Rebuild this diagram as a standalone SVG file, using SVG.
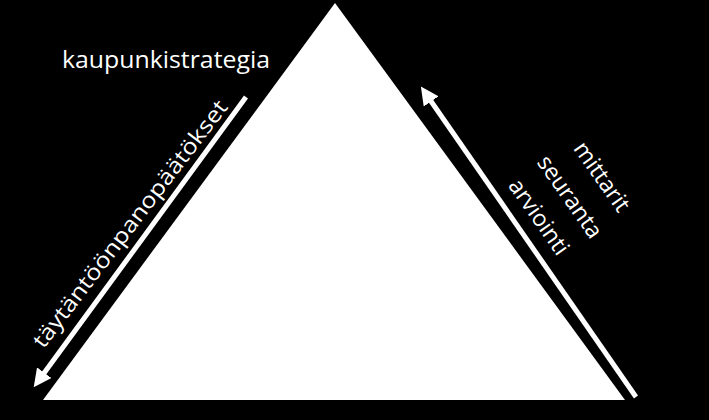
<svg xmlns="http://www.w3.org/2000/svg" width="709" height="420" viewBox="0 0 709 420">
<style>
text{fill:#fff;font-family:"Open Sans","Liberation Sans",sans-serif;dominant-baseline:central;text-anchor:middle}
.a{stroke:#fff;stroke-width:5;fill:none}
</style>
<defs><marker id="h" viewBox="0 0 10 10" refX="5" refY="5" markerWidth="3.6" markerHeight="3.6" orient="auto" markerUnits="strokeWidth"><path d="M0,0L10,5L0,10z" fill="#fff"/></marker></defs>
<rect width="709" height="420" fill="#000"/>
<g id="triangle"><polygon points="335,3 43,400 625,400" fill="#fff"/></g>
<g id="connectors">
<line class="a" x1="246" y1="97" x2="39" y2="380" marker-end="url(#h)"/>
<line class="a" x1="636" y1="397" x2="426" y2="94" marker-end="url(#h)"/>
</g>
<g id="title"><text x="166" y="59" font-size="23" textLength="208" lengthAdjust="spacingAndGlyphs">kaupunkistrategia</text></g>
<g id="left-label"><text transform="translate(129,223) rotate(-52.6)" font-size="22" textLength="305" lengthAdjust="spacingAndGlyphs">täytäntöönpanopäätökset</text></g>
<g id="right-label">
<text transform="translate(603,176) rotate(55)" font-size="23">mittarit</text>
<text transform="translate(571,196) rotate(55)" font-size="23">seuranta</text>
<text transform="translate(540,216) rotate(55)" font-size="23">arviointi</text>
</g>
</svg>
